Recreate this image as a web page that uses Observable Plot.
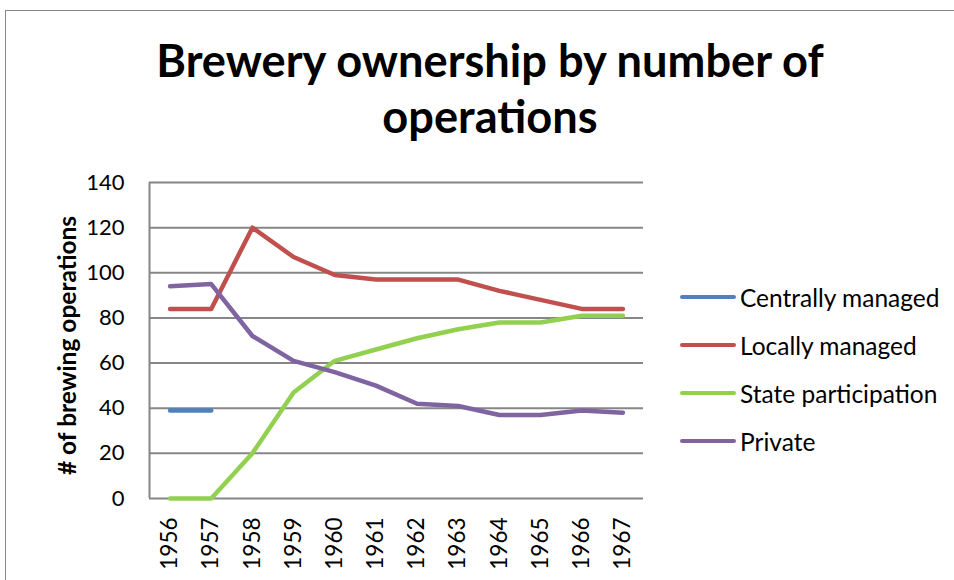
<!DOCTYPE html>
<html>
<head>
<meta charset="utf-8">
<script src="https://cdn.jsdelivr.net/npm/d3@7"></script>
<script src="https://cdn.jsdelivr.net/npm/@observablehq/plot@0.6"></script>
<style>
  html, body { margin: 0; padding: 0; background: #fff; overflow: hidden; }
  #wrap { position: relative; width: 954px; height: 580px; overflow: hidden; font-family: Lato, "Open Sans", sans-serif; }
  #border { position: absolute; left: 5px; top: 10px; width: 2000px; height: 2000px; border: 1px solid #868686; box-sizing: border-box; }
  #title { position: absolute; left: 0; top: 31.5px; width: 980px; text-align: center; font-weight: bold; font-size: 45.2px; line-height: 56px; color: #000; }
  #chart { position: absolute; left: 0; top: 0; }
  #legend { position: absolute; left: 680px; top: 273px; }
  .item { display: flex; align-items: center; height: 48px; font-size: 24.5px; color: #000; }
  .sw { width: 56px; height: 4.5px; border-radius: 3px; margin-right: 4px; }
</style>
</head>
<body>
<div id="wrap">
  <div id="border"></div>
  <div id="chart"></div>
  <div id="title">Brewery ownership by number of<br>operations</div>
  <div id="legend"></div>
</div>
<script>
const years = [1956, 1957, 1958, 1959, 1960, 1961, 1962, 1963, 1964, 1965, 1966, 1967];
const centrallyManaged = [39, 39, null, null, null, null, null, null, null, null, null, null];
const locallyManaged = [84, 84, 120, 107, 99, 97, 97, 97, 92, 88, 84, 84];
const stateParticipation = [0, 0, 20, 47, 61, 66, 71, 75, 78, 78, 81, 81];
const privateOps = [94, 95, 72, 61, 56, 50, 42, 41, 37, 37, 39, 38];
const seriesNames = ["Centrally managed", "Locally managed", "State participation", "Private"];
const seriesColors = ["#4F81BD", "#C0504D", "#92D050", "#8064A2"];
const yTicks = [0, 20, 40, 60, 80, 100, 120, 140];
const yLabel = "# of brewing operations";

const seriesValues = [centrallyManaged, locallyManaged, stateParticipation, privateOps];
const rows = [];
seriesNames.forEach((name, i) => {
  years.forEach((yr, j) => rows.push({series: name, year: yr, value: seriesValues[i][j]}));
});

const chart = Plot.plot({
  width: 954,
  height: 580,
  marginLeft: 149,
  marginRight: 311,
  marginTop: 182,
  marginBottom: 82,
  style: {fontFamily: "Lato, 'Open Sans', sans-serif", fontSize: "22px", color: "#000", background: "transparent", overflow: "visible"},
  x: {type: "linear", domain: [years[0] - 0.5, years[years.length - 1] + 0.5]},
  y: {domain: [0, 140]},
  color: {domain: seriesNames, range: seriesColors},
  marks: [
    Plot.ruleY(yTicks, {stroke: "#868686", strokeWidth: 2, strokeOpacity: 1}),
    Plot.ruleX([years[0] - 0.5], {stroke: "#868686", strokeWidth: 2, strokeOpacity: 1}),
    Plot.axisY({ticks: yTicks, tickSize: 0, tickPadding: 25, label: null, fontSize: 22}),
    Plot.axisX({ticks: years, tickSize: 0, tickRotate: -90, tickPadding: 19, tickFormat: d => String(d), label: null, fontSize: 22.5}),
    Plot.line(rows, {x: "year", y: "value", z: "series", stroke: "series", strokeWidth: 4.5, strokeLinecap: "round", strokeLinejoin: "round"}),
    Plot.text([yLabel], {text: d => d, frameAnchor: "left", textAnchor: "middle", rotate: -90, dx: -81, dy: 5, fontWeight: "bold", fontSize: 24.5, fill: "#000"})
  ]
});
document.getElementById("chart").appendChild(chart);

const legend = document.getElementById("legend");
seriesNames.forEach((name, i) => {
  const item = document.createElement("div");
  item.className = "item";
  const sw = document.createElement("span");
  sw.className = "sw";
  sw.style.background = seriesColors[i];
  const tx = document.createElement("span");
  tx.textContent = name;
  item.appendChild(sw);
  item.appendChild(tx);
  legend.appendChild(item);
});
</script>
</body>
</html>
